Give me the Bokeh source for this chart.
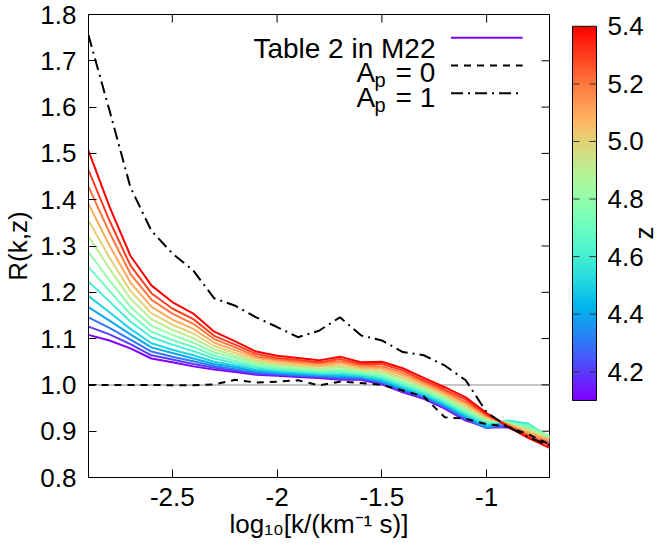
import numpy as np
from bokeh.plotting import figure
from bokeh.layouts import row
from bokeh.models import (FixedTicker, Span, Range1d, Label, PrintfTickFormatter,
                          LinearColorMapper)
from bokeh.core.properties import value
from bokeh.embed import file_html
from bokeh.resources import INLINE

# ---------------- data ----------------
log_k = [-2.9, -2.8, -2.7, -2.6, -2.5, -2.4, -2.3, -2.2, -2.1, -2.0, -1.9, -1.8,
         -1.7, -1.6, -1.5, -1.4, -1.3, -1.2, -1.1, -1.0, -0.9, -0.8, -0.7]

z_values = [4.1, 4.2, 4.3, 4.4, 4.5, 4.6, 4.7, 4.8, 4.9, 5.0, 5.1, 5.2, 5.3, 5.4]

r_z41 = [1.108, 1.096, 1.079, 1.057, 1.049, 1.040, 1.033, 1.028, 1.022, 1.020, 1.017, 1.015, 1.011, 1.011, 1.001, 0.984, 0.970, 0.949, 0.923, 0.909, 0.908, 0.893, 0.872]
r_z42 = [1.126, 1.109, 1.088, 1.064, 1.055, 1.045, 1.037, 1.031, 1.024, 1.022, 1.019, 1.017, 1.013, 1.013, 1.003, 0.986, 0.972, 0.951, 0.925, 0.907, 0.910, 0.900, 0.876]
r_z43 = [1.146, 1.123, 1.098, 1.072, 1.061, 1.051, 1.041, 1.034, 1.027, 1.024, 1.021, 1.019, 1.016, 1.015, 1.006, 0.989, 0.974, 0.953, 0.928, 0.907, 0.915, 0.907, 0.880]
r_z44 = [1.168, 1.139, 1.109, 1.081, 1.069, 1.057, 1.045, 1.038, 1.030, 1.026, 1.023, 1.021, 1.019, 1.017, 1.008, 0.992, 0.977, 0.956, 0.931, 0.909, 0.920, 0.912, 0.883]
r_z45 = [1.192, 1.157, 1.121, 1.090, 1.076, 1.064, 1.050, 1.042, 1.033, 1.029, 1.026, 1.023, 1.022, 1.019, 1.011, 0.995, 0.979, 0.959, 0.934, 0.913, 0.923, 0.916, 0.886]
r_z46 = [1.223, 1.180, 1.137, 1.103, 1.087, 1.073, 1.057, 1.047, 1.037, 1.032, 1.029, 1.026, 1.026, 1.022, 1.015, 0.999, 0.983, 0.962, 0.938, 0.917, 0.922, 0.915, 0.888]
r_z47 = [1.255, 1.203, 1.153, 1.115, 1.097, 1.082, 1.063, 1.052, 1.041, 1.036, 1.032, 1.029, 1.030, 1.025, 1.019, 1.003, 0.987, 0.966, 0.942, 0.920, 0.920, 0.912, 0.889]
r_z48 = [1.287, 1.226, 1.169, 1.128, 1.108, 1.091, 1.070, 1.058, 1.045, 1.039, 1.035, 1.032, 1.034, 1.028, 1.023, 1.007, 0.990, 0.970, 0.946, 0.923, 0.918, 0.908, 0.888]
r_z49 = [1.321, 1.251, 1.186, 1.142, 1.119, 1.101, 1.077, 1.063, 1.049, 1.043, 1.039, 1.035, 1.038, 1.031, 1.027, 1.012, 0.994, 0.974, 0.950, 0.926, 0.917, 0.904, 0.886]
r_z50 = [1.355, 1.275, 1.203, 1.155, 1.130, 1.111, 1.084, 1.069, 1.053, 1.047, 1.042, 1.039, 1.042, 1.035, 1.031, 1.016, 0.998, 0.978, 0.954, 0.929, 0.916, 0.900, 0.884]
r_z51 = [1.391, 1.301, 1.221, 1.169, 1.141, 1.121, 1.091, 1.075, 1.058, 1.051, 1.046, 1.042, 1.047, 1.038, 1.036, 1.021, 1.002, 0.982, 0.959, 0.931, 0.915, 0.896, 0.880]
r_z52 = [1.428, 1.329, 1.240, 1.184, 1.154, 1.132, 1.099, 1.081, 1.062, 1.055, 1.050, 1.046, 1.051, 1.042, 1.040, 1.026, 1.006, 0.986, 0.963, 0.934, 0.914, 0.892, 0.875]
r_z53 = [1.464, 1.355, 1.258, 1.198, 1.165, 1.142, 1.106, 1.087, 1.067, 1.058, 1.054, 1.049, 1.056, 1.045, 1.045, 1.031, 1.010, 0.990, 0.968, 0.936, 0.912, 0.888, 0.870]
r_z54 = [1.506, 1.385, 1.279, 1.215, 1.179, 1.154, 1.115, 1.094, 1.072, 1.063, 1.058, 1.053, 1.061, 1.049, 1.050, 1.036, 1.015, 0.995, 0.973, 0.939, 0.910, 0.885, 0.864]

r_series = [r_z41, r_z42, r_z43, r_z44, r_z45, r_z46, r_z47,
            r_z48, r_z49, r_z50, r_z51, r_z52, r_z53, r_z54]

r_ap0 = [1.000, 1.000, 1.000, 1.000, 0.999, 0.999, 1.001, 1.011, 1.005, 1.007, 1.010, 0.999, 1.007, 1.004, 1.000, 0.988, 0.975, 0.930, 0.927, 0.915, 0.910, 0.893, 0.872]
r_ap1 = [1.755, 1.593, 1.427, 1.333, 1.284, 1.247, 1.187, 1.171, 1.146, 1.125, 1.103, 1.117, 1.146, 1.107, 1.096, 1.071, 1.064, 1.042, 1.010, 0.941, 0.910, 0.887, 0.869]

x_ticks = [-2.5, -2.0, -1.5, -1.0]
x_tick_labels = ["-2.5", "-2", "-1.5", "-1"]
y_ticks = [0.8, 0.9, 1.0, 1.1, 1.2, 1.3, 1.4, 1.5, 1.6, 1.7, 1.8]
cb_ticks = [4.2, 4.4, 4.6, 4.8, 5.0, 5.2, 5.4]
cb_tick_labels = ["4.2", "4.4", "4.6", "4.8", "5.0", "5.2", "5.4"]
z_low, z_high = 4.1, 5.4
x_lo, x_hi = -2.9, -0.7
y_lo, y_hi = 0.8, 1.8

# ---------------- style / geometry ----------------
FONT = "Liberation Sans"
FS = "26px"
LEG_FS = "28px"
W, H = 658, 547
LEFT, TOP, FRAME = 86, 14, 463
MAIN_W = 571
TICK = 8


def rainbow(t):
    t = float(np.clip(t, 0, 1))
    r = min(1.0, abs(2 * t - 0.5))
    g = max(0.0, np.sin(np.pi * t))
    b = max(0.0, np.cos(np.pi * t / 2))
    return "#%02x%02x%02x" % (int(round(r * 255)), int(round(g * 255)), int(round(b * 255)))


palette = [rainbow(t) for t in np.linspace(0, 1, 256)]

p = figure(width=MAIN_W, height=H, output_backend="svg", toolbar_location=None,
           x_range=Range1d(x_lo, x_hi), y_range=Range1d(y_lo, y_hi),
           min_border_left=LEFT, min_border_right=MAIN_W - LEFT - FRAME,
           min_border_top=TOP, min_border_bottom=H - TOP - FRAME)
p.xgrid.visible = False
p.ygrid.visible = False
p.outline_line_color = "black"
p.outline_line_width = 1
p.background_fill_color = "white"
p.border_fill_color = "white"

for ax in (p.xaxis[0], p.yaxis[0]):
    ax.major_tick_in = TICK
    ax.major_tick_out = 0
    ax.minor_tick_line_color = None
    ax.axis_line_color = "black"
    ax.major_tick_line_color = "black"
    ax.major_label_text_font = FONT
    ax.major_label_text_font_size = FS
    ax.major_label_text_color = "black"
    ax.axis_label_text_font = FONT
    ax.axis_label_text_font_size = FS
    ax.axis_label_text_font_style = "normal"
    ax.axis_label_text_color = "black"

p.xaxis.ticker = FixedTicker(ticks=x_ticks)
p.xaxis.major_label_overrides = {t: s for t, s in zip(x_ticks, x_tick_labels)}
p.xaxis.major_label_standoff = 10
p.xaxis.axis_label = "log\u2081\u2080[k/(km\u207b\u00b9 s)]"
p.xaxis.axis_label_standoff = 0
p.yaxis.ticker = FixedTicker(ticks=y_ticks)
p.yaxis.formatter = PrintfTickFormatter(format="%.1f")
p.yaxis.major_label_standoff = 12
p.yaxis.axis_label = "R(k,z)"
p.yaxis.axis_label_standoff = 4

# mirrored ticks on top and right edges
dy_tick = TICK * (y_hi - y_lo) / FRAME
dx_tick = TICK * (x_hi - x_lo) / FRAME
p.segment(x0=x_ticks, x1=x_ticks, y0=[y_hi] * len(x_ticks), y1=[y_hi - dy_tick] * len(x_ticks),
          line_color="black", line_width=1)
p.segment(x0=[x_hi - dx_tick] * len(y_ticks), x1=[x_hi] * len(y_ticks), y0=y_ticks, y1=y_ticks,
          line_color="black", line_width=1)

# reference line at 1
p.add_layout(Span(location=1.0, dimension="width", line_color="#c4c4c4",
                  line_width=2, level="underlay"))

# curves
for z, r in zip(z_values, r_series):
    p.line(log_k, r, line_color=rainbow((z - z_low) / (z_high - z_low)), line_width=2,
           line_join="round")
p.line(log_k, r_ap0, line_color="black", line_width=2, line_dash="7 6")
p.line(log_k, r_ap1, line_color="black", line_width=2, line_dash="12 5 2 5")

# legend (gnuplot style: text then sample)
leg_x = [-1.170, -0.828]
p.line(leg_x, [1.750, 1.750], line_color=rainbow(0.0), line_width=2)
p.line(leg_x, [1.690, 1.690], line_color="black", line_width=2, line_dash="7 6")
p.line(leg_x, [1.630, 1.630], line_color="black", line_width=2, line_dash="12 5 2 5")


def lab(text, x, y, size=LEG_FS, **kw):
    p.add_layout(Label(x=x, y=y, x_units="screen", y_units="screen", text=text,
                       text_font=FONT, text_font_size=size, text_color="black",
                       text_baseline="alphabetic", **kw))


lab("Table 2 in M22", 347, 429, text_align="right")
lab("A", 268, 405)
lab("p", 286, 398, size="20px")
lab("= 0", 307, 405)
lab("A", 268, 380)
lab("p", 286, 373, size="20px")
lab("= 1", 307, 380)

# ---------------- colour bar panel ----------------
CB_TOP, CB_BOT = 14, 456
CB_W = W - MAIN_W
per = (CB_BOT - CB_TOP) / (z_high - z_low)
cb_y0 = z_low - (H - CB_BOT) / per
cb_y1 = z_high + CB_TOP / per

c = figure(width=CB_W, height=H, output_backend="svg", toolbar_location=None,
           x_range=Range1d(-1, CB_W - 1), y_range=Range1d(cb_y0, cb_y1),
           x_axis_type=None, y_axis_type=None,
           min_border_left=0, min_border_right=0, min_border_top=0, min_border_bottom=0)
c.xgrid.visible = False
c.ygrid.visible = False
c.outline_line_color = None
c.background_fill_color = "white"
c.border_fill_color = "white"

mapper = LinearColorMapper(palette=palette, low=z_low, high=z_high)
grad = np.linspace(z_low, z_high, 256).reshape(256, 1)
c.image(image=[grad], x=0, y=z_low, dw=24, dh=z_high - z_low, color_mapper=mapper)
c.quad(left=[0], right=[24], bottom=[z_low], top=[z_high], fill_color=None,
       line_color="black", line_width=1)
n = len(cb_ticks)
c.segment(x0=[17] * n, x1=[24] * n, y0=cb_ticks, y1=cb_ticks, line_color="#333333", line_width=1)
c.segment(x0=[0] * n, x1=[7] * n, y0=cb_ticks, y1=cb_ticks, line_color="#333333", line_width=1)
c.text(x=[35] * n, y=cb_ticks, text=cb_tick_labels, text_font=value(FONT),
       text_font_size=value(FS), text_color="black", text_align="left",
       text_baseline="middle")
c.text(x=[71], y=[z_high - (258 - CB_TOP) / per], text=["z"], text_font=value(FONT),
       text_font_size=value(FS), text_color="black", text_align="center",
       text_baseline="middle", angle=np.pi / 2)

layout = row(p, c, spacing=0)
open("out.html", "w").write(file_html(layout, INLINE))
